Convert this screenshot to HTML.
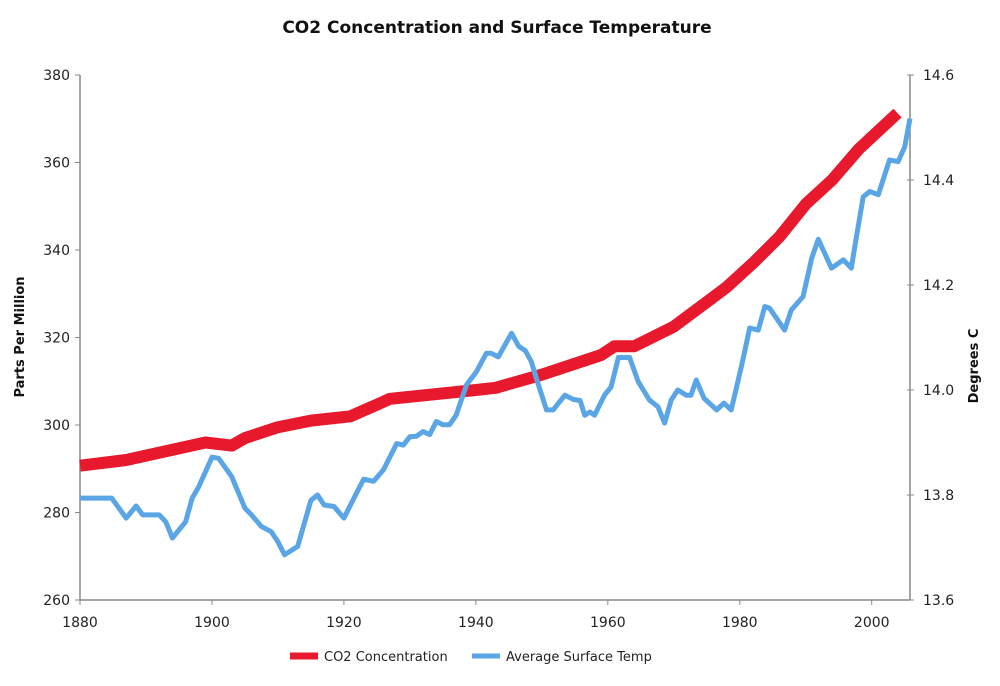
<!DOCTYPE html>
<html><head><meta charset="utf-8">
<style>
html,body{margin:0;padding:0;background:#fff;}
svg{display:block;font-family:"DejaVu Sans","Liberation Sans",sans-serif;}
</style></head>
<body>
<svg id="chart" width="1000" height="686" viewBox="0 0 1000 686">
<text x="497" y="33" text-anchor="middle" font-size="17" font-weight="bold" fill="#111">CO2 Concentration and Surface Temperature</text>
<text transform="translate(24,337) rotate(-90)" text-anchor="middle" font-size="13" font-weight="bold" fill="#111">Parts Per Million</text>
<text transform="translate(978,366) rotate(-90)" text-anchor="middle" font-size="13" font-weight="bold" fill="#111">Degrees C</text>
<g id="axes"></g>
<g id="series"></g>
<g>
<line x1="290" y1="656" x2="318" y2="656" stroke="#e8192c" stroke-width="7"/>
<text x="324" y="661" font-size="13" fill="#222">CO2 Concentration</text>
<line x1="472" y1="656" x2="500" y2="656" stroke="#5aa5e6" stroke-width="5"/>
<text x="506" y="661" font-size="13" fill="#222">Average Surface Temp</text>
</g>
</svg>
<script>
const xTicks = [1880,1900,1920,1940,1960,1980,2000];
const leftTicks = [260,280,300,320,340,360,380];
const rightTicks = [13.6,13.8,14.0,14.2,14.4,14.6];
const co2Years = [1880,1887,1899,1903,1905,1910,1915,1921,1927,1940,1943,1950,1959,1961,1964,1970,1974,1978,1982,1986,1990,1994,1998,2003.9];
const co2Values = [290.7,292,296,295.3,297,299.5,301,302,306,308,308.5,311.5,316,318,318,322.5,327,331.5,337,343,350.5,356,363,371.3];
const tempYears = [1880,1884.8,1887,1888.5,1889.5,1892,1893,1894,1896,1897,1898,1900,1901,1903,1905,1906,1907.5,1909,1910,1911,1913,1915,1916,1917,1918.5,1920,1922,1923,1924.5,1926,1928,1929,1930,1931,1932,1933,1934,1935,1936,1937,1938.6,1940.1,1941.6,1942.3,1943.4,1945.4,1946.5,1947.5,1948.4,1949.4,1950.7,1951.7,1953.5,1954.8,1955.8,1956.5,1957.3,1958,1959.5,1960.5,1961.6,1963.3,1964.6,1966.3,1967.6,1968.6,1969.6,1970.6,1971.9,1972.6,1973.4,1974.6,1976.5,1977.6,1978.7,1980.3,1981.5,1982.8,1983.8,1984.5,1986.8,1987.8,1989.6,1990.9,1991.9,1993.9,1995.7,1996.9,1997.6,1998.7,1999.7,2001,2002.7,2004,2005,2005.8];
const tempValues = [13.794,13.794,13.756,13.779,13.762,13.762,13.749,13.718,13.749,13.794,13.816,13.872,13.870,13.835,13.775,13.762,13.740,13.730,13.711,13.686,13.702,13.790,13.800,13.781,13.778,13.756,13.806,13.830,13.826,13.848,13.898,13.895,13.911,13.912,13.921,13.915,13.940,13.934,13.934,13.952,14.010,14.035,14.070,14.070,14.063,14.108,14.083,14.075,14.054,14.013,13.962,13.962,13.990,13.982,13.980,13.952,13.958,13.952,13.990,14.006,14.062,14.062,14.016,13.981,13.968,13.937,13.981,14.0,13.990,13.990,14.019,13.984,13.962,13.975,13.962,14.048,14.118,14.114,14.159,14.156,14.114,14.152,14.178,14.251,14.287,14.232,14.248,14.232,14.286,14.368,14.378,14.372,14.438,14.435,14.463,14.517];

const X0=80, X1=910, Y0=75, Y1=600, YR0=1880, YR1=2005.8;
const xs = y => X0 + (y-YR0)/(YR1-YR0)*(X1-X0);
const yl = v => Y1 - (v-260)/120*(Y1-Y0);
const yr = v => Y1 - (v-13.6)/1.0*(Y1-Y0);
const NS="http://www.w3.org/2000/svg";
function mk(tag, attrs, parent){const e=document.createElementNS(NS,tag);for(const k in attrs)e.setAttribute(k,attrs[k]);parent.appendChild(e);return e;}
const axes=document.getElementById('axes');
let a;
a=mk('line',{x1:X0,y1:Y0,x2:X0,y2:Y1,stroke:'#888','stroke-width':1.5},axes);


a=mk('line',{x1:X1,y1:Y0,x2:X1,y2:Y1,stroke:'#888','stroke-width':1.5},axes);


a=mk('line',{x1:X0,y1:Y1,x2:X1,y2:Y1,stroke:'#888','stroke-width':1.5},axes);


xTicks.forEach(t=>{
  const x=xs(t);
  const l=mk('line',{x1:x,y1:Y1,x2:x,y2:Y1+5,stroke:'#888'},axes);
  
  
  const tx=mk('text',{x:x,y:Y1+27,'text-anchor':'middle','font-size':14,fill:'#222'},axes);
  tx.textContent=t;
  
  
});
leftTicks.forEach(t=>{
  const y=yl(t);
  const l=mk('line',{x1:X0-5,y1:y,x2:X0,y2:y,stroke:'#888'},axes);
  
  
  const tx=mk('text',{x:X0-10,y:y+5,'text-anchor':'end','font-size':14,fill:'#222'},axes);
  tx.textContent=t;
  
  
});
rightTicks.forEach(t=>{
  const y=yr(t);
  const l=mk('line',{x1:X1-3,y1:y,x2:X1+4,y2:y,stroke:'#888'},axes);
  
  
  const tx=mk('text',{x:X1+13,y:y+5,'text-anchor':'start','font-size':14,fill:'#222'},axes);
  tx.textContent=t.toFixed(1);
  
  
});
const series=document.getElementById('series');
const co2Pts=co2Years.map((y,i)=>xs(y).toFixed(1)+','+yl(co2Values[i]).toFixed(1)).join(' ');
const co2=mk('polyline',{points:co2Pts,fill:'none',stroke:'#e8192c','stroke-width':12,'stroke-linejoin':'round'},series);


const tPts=tempYears.map((y,i)=>xs(y).toFixed(1)+','+yr(tempValues[i]).toFixed(1)).join(' ');
const tl=mk('polyline',{points:tPts,fill:'none',stroke:'#5aa5e6','stroke-width':5,'stroke-linejoin':'round'},series);


</script>
</body></html>
